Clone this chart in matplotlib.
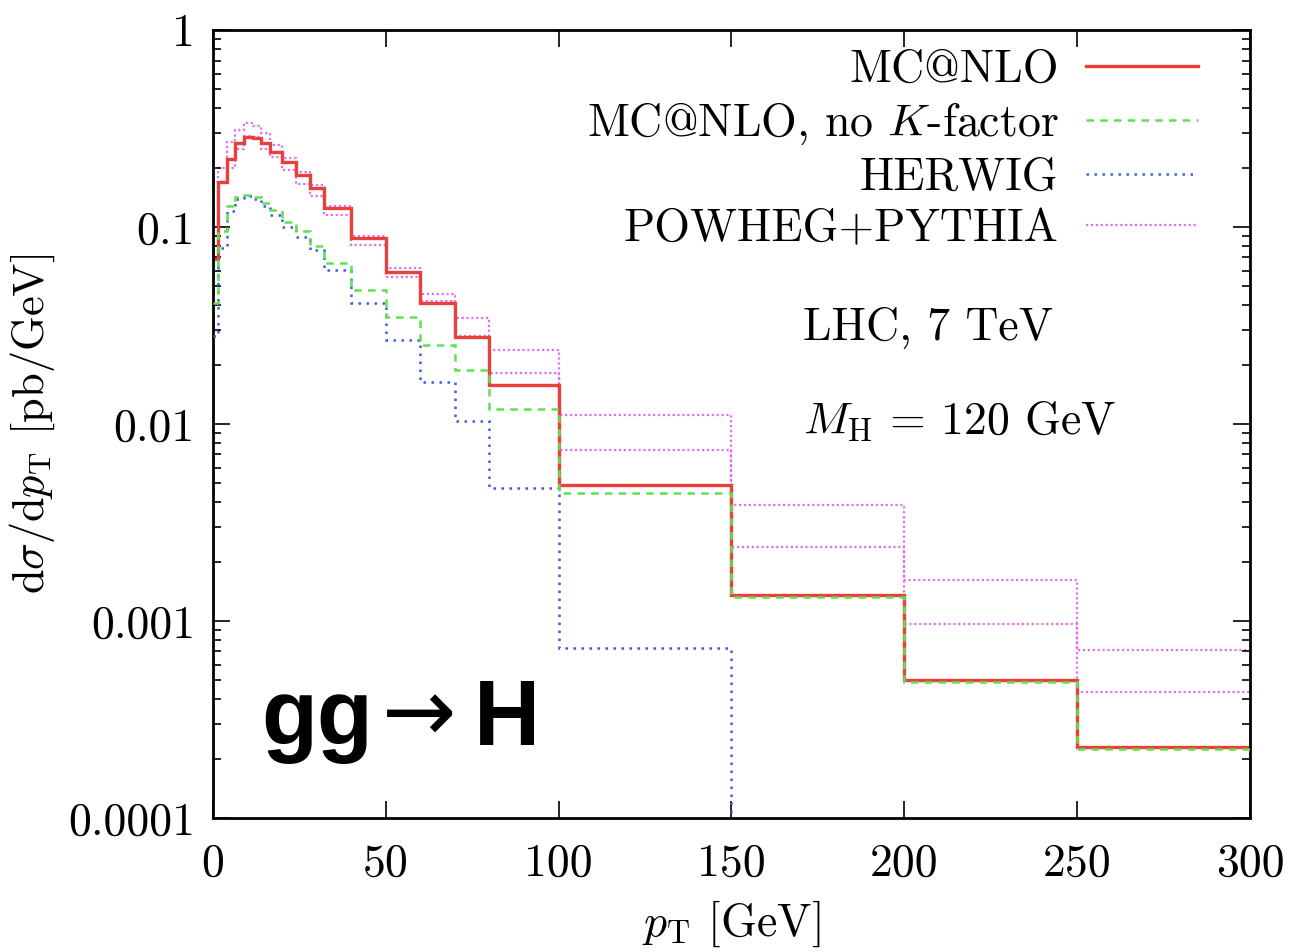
import numpy as np
import matplotlib
matplotlib.use("Agg")
import matplotlib.pyplot as plt

plt.rcParams["font.family"] = ["cmr10", "DejaVu Serif"]
plt.rcParams["mathtext.fontset"] = "cm"
plt.rcParams["axes.unicode_minus"] = False

# bin edges in pT [GeV]
edges = [0, 1.5, 4, 6.5, 9, 11.5, 14, 16.5, 20, 24, 28, 32, 40,
         50, 60, 70, 80, 100, 150, 200, 250, 300]

# d sigma / d pT [pb/GeV] per bin
mcnlo = [0.069, 0.17, 0.221, 0.266, 0.287, 0.282, 0.266, 0.241, 0.214,
         0.183, 0.158, 0.125, 0.088, 0.059, 0.041, 0.0275, 0.0158,
         0.0049, 0.001355, 0.0005, 0.00023]
mcnlo_nok = [0.041, 0.095, 0.128, 0.142, 0.146, 0.142, 0.133, 0.122,
             0.106, 0.095, 0.08, 0.066, 0.048, 0.035, 0.0252, 0.0187,
             0.0119, 0.00446, 0.00133, 0.00049, 0.000225]
herwig = [0.028, 0.078, 0.12, 0.138, 0.144, 0.138, 0.128, 0.115, 0.1,
          0.089, 0.076, 0.0606, 0.041, 0.0267, 0.0164, 0.0103, 0.00472,
          0.000727, 1e-6, 1e-6, 1e-6]
powheg_up = [0.1, 0.2, 0.27, 0.31, 0.336, 0.325, 0.3, 0.26, 0.225, 0.19,
             0.163, 0.128, 0.09, 0.062, 0.0457, 0.0344, 0.0238, 0.0111,
             0.00388, 0.00161, 0.000713]
powheg_lo = [0.07, 0.17, 0.2, 0.25, 0.29, 0.285, 0.25, 0.227, 0.195,
             0.165, 0.143, 0.115, 0.081, 0.056, 0.042, 0.028, 0.0181,
             0.00738, 0.00238, 0.000966, 0.000438]

xticks = [0, 50, 100, 150, 200, 250, 300]
yticks = [1e-4, 1e-3, 1e-2, 1e-1, 1]
ytick_labels = ["0.0001", "0.001", "0.01", "0.1", "1"]

fig = plt.figure(figsize=(12.93, 9.52), dpi=100)
ax = fig.add_axes([0.1647, 0.1408, 0.8020, 0.8277])

ax.stairs(powheg_up, edges, baseline=None, color="#e070ee", lw=1.6,
          linestyle=(0, (1, 1.2)), label="POWHEG+PYTHIA")
ax.stairs(powheg_lo, edges, baseline=None, color="#e070ee", lw=1.6,
          linestyle=(0, (1, 1.2)))
ax.stairs(herwig, edges, baseline=None, color="#3a5cec", lw=1.8,
          linestyle=(0, (1, 2.2)), label="HERWIG", zorder=3)
ax.stairs(mcnlo_nok, edges, baseline=None, color="#5ee050", lw=1.8,
          linestyle=(0, (3, 2.5)), label=r"MC@NLO, no $K$-factor", zorder=4)
ax.stairs(mcnlo, edges, baseline=None, color="#e8413c", lw=2.4,
          label="MC@NLO", zorder=2)

ax.set_yscale("log")
ax.set_xlim(0, 300)
ax.set_ylim(1e-4, 1)
ax.set_xticks(xticks)
ax.set_xticklabels([str(t) for t in xticks])
ax.set_yticks(yticks)
ax.set_yticklabels(ytick_labels)
ax.tick_params(which="both", direction="in", top=True, right=True,
               labelsize=33, width=1.2)
ax.tick_params(which="major", length=12)
ax.tick_params(axis="x", which="major", pad=18)
ax.tick_params(axis="y", which="major", pad=13)
ax.tick_params(which="minor", length=6)
ax.tick_params(axis="x", which="minor", bottom=False, top=False)
for s in ax.spines.values():
    s.set_linewidth(2)

ax.set_xlabel(r"$p_{\mathrm{T}}$ [GeV]", fontsize=33, labelpad=10)
ax.set_ylabel(r"$\mathrm{d}\sigma/\mathrm{d}p_{\mathrm{T}}$ [pb/GeV]",
              fontsize=32, labelpad=8)

h, l = ax.get_legend_handles_labels()
order = [3, 2, 1, 0]
ax.legend([h[i] for i in order], [l[i] for i in order], loc="upper right",
          bbox_to_anchor=(0.968, 0.999), frameon=False, markerfirst=False,
          fontsize=33, handlelength=2.45, handletextpad=0.6,
          labelspacing=0.22, borderaxespad=0.0)

ax.text(0.569, 0.622, "LHC, 7 TeV", transform=ax.transAxes,
        fontsize=33, va="center", ha="left")
ax.text(0.569, 0.5025, r"$M_{\mathrm{H}}$ = 120 GeV", transform=ax.transAxes,
        fontsize=33, va="center", ha="left")

# process label: gg -> H
ax.text(0.047, 0.093, "gg", transform=ax.transAxes, fontsize=66,
        fontweight="bold", family="Liberation Sans",
        va="baseline", ha="left")
ax.text(0.163, 0.128, "→", transform=ax.transAxes, fontsize=64,
        family="DejaVu Sans", va="center", ha="left")
ax.text(0.252, 0.093, "H", transform=ax.transAxes, fontsize=66,
        fontweight="bold", family="Liberation Sans",
        va="baseline", ha="left")

fig.savefig("out.png", dpi=100)
